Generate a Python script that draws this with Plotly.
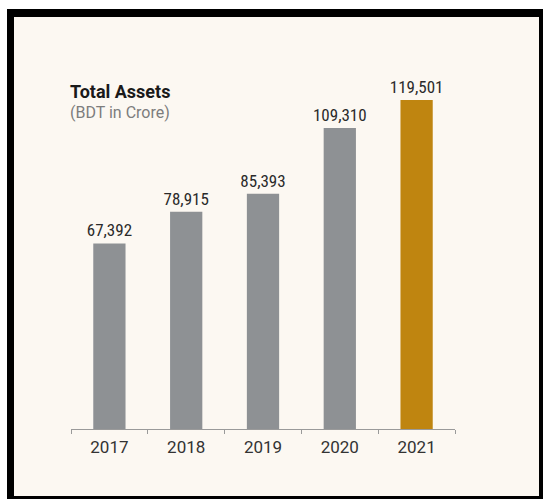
import plotly.graph_objects as go

# Total assets by year, BDT in crore
years = ["2017", "2018", "2019", "2020", "2021"]
assets = [67392, 78915, 85393, 109310, 119501]
bar_colors = ["#8e9194", "#8e9194", "#8e9194", "#8e9194", "#bf8510"]
value_labels = [f"{v:,}" for v in assets]

W, H = 543, 499
ML, MR, MT, MB = 71, 88, 60, 70
PW, PH = W - ML - MR, H - MT - MB


def px_x(x):
    return (x - ML) / PW


def px_y(y):
    return (H - MB - y) / PH


fig = go.Figure(
    go.Bar(
        x=years,
        y=assets,
        marker=dict(color=bar_colors, line=dict(width=0)),
        width=0.42,
        text=value_labels,
        textposition="outside",
        constraintext="none",
        textfont=dict(family="Liberation Sans Narrow, Roboto Condensed, Roboto", size=17, color="#2a2a2a"),
        cliponaxis=False,
        hoverinfo="skip",
    )
)

# black frame with cream panel inside
fig.add_shape(type="rect", xref="paper", yref="paper", layer="below",
              x0=px_x(7), x1=px_x(545), y0=px_y(502), y1=px_y(9),
              fillcolor="#000000", line=dict(width=0))
fig.add_shape(type="rect", xref="paper", yref="paper", layer="below",
              x0=px_x(14), x1=px_x(539), y0=px_y(496), y1=px_y(17),
              fillcolor="#fcf8f2", line=dict(width=0))

fig.add_annotation(text="<b>Total Assets</b>", xref="paper", yref="paper",
                   x=px_x(68), y=px_y(91), xanchor="left", yanchor="middle",
                   showarrow=False, font=dict(family="Roboto", size=18, color="#1a1a1a"))
fig.add_annotation(text="(BDT in Crore)", xref="paper", yref="paper",
                   x=px_x(68), y=px_y(112), xanchor="left", yanchor="middle",
                   showarrow=False, font=dict(family="Roboto", size=16, color="#7d7d7d"))

fig.update_layout(
    width=W, height=H,
    margin=dict(l=ML, r=MR, t=MT, b=MB),
    paper_bgcolor="#ffffff",
    plot_bgcolor="rgba(0,0,0,0)",
    showlegend=False,
    bargap=0.58,
)
fig.update_xaxes(
    type="category",
    range=[-0.5, 4.5],
    showline=True, linecolor="#9a9a9a", linewidth=1,
    ticks="outside", tickson="boundaries", ticklen=4, tickcolor="#9a9a9a",
    ticklabelstandoff=3,
    showgrid=False, zeroline=False,
    tickfont=dict(family="Roboto", size=17, color="#333333"),
)
fig.update_yaxes(range=[0, 134000], visible=False, showgrid=False, zeroline=False)

fig.write_html("out.html")
